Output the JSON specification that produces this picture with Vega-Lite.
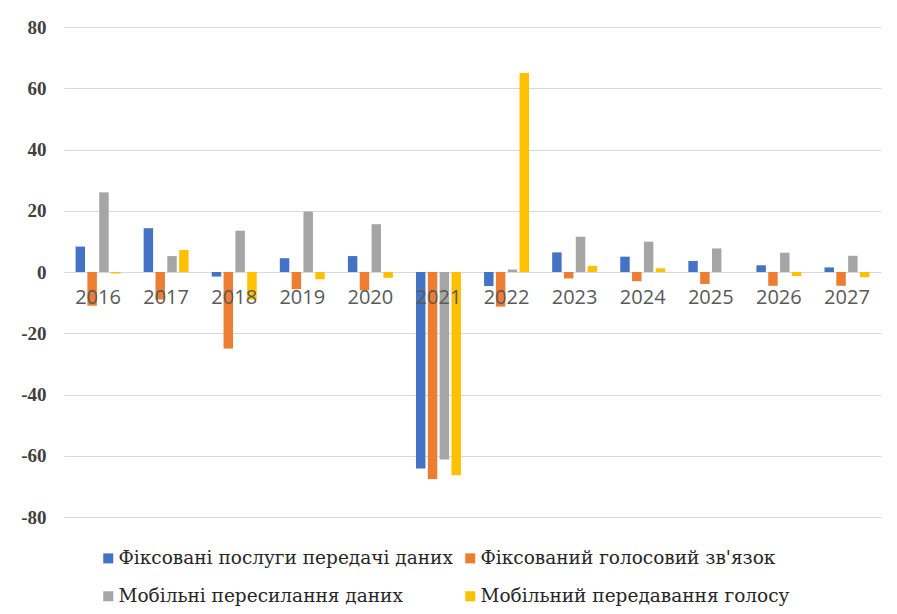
{
  "$schema": "https://vega.github.io/schema/vega-lite/v6.json",
  "width": 817,
  "height": 490,
  "autosize": {"type": "none"},
  "padding": {"left": 64, "top": 27, "right": 16, "bottom": 97},
  "background": "white",
  "config": {"view": {"stroke": null}},
  "data": {"values": [
    {"year": "2016", "s": "Фіксовані послуги передачі даних", "v": 8.3},
    {"year": "2016", "s": "Фіксований голосовий зв'язок", "v": -11},
    {"year": "2016", "s": "Мобільні пересилання даних", "v": 26},
    {"year": "2016", "s": "Мобільний передавання голосу", "v": -0.5},
    {"year": "2017", "s": "Фіксовані послуги передачі даних", "v": 14.3},
    {"year": "2017", "s": "Фіксований голосовий зв'язок", "v": -9},
    {"year": "2017", "s": "Мобільні пересилання даних", "v": 5.2},
    {"year": "2017", "s": "Мобільний передавання голосу", "v": 7.2},
    {"year": "2018", "s": "Фіксовані послуги передачі даних", "v": -1.5},
    {"year": "2018", "s": "Фіксований голосовий зв'язок", "v": -25},
    {"year": "2018", "s": "Мобільні пересилання даних", "v": 13.5},
    {"year": "2018", "s": "Мобільний передавання голосу", "v": -9},
    {"year": "2019", "s": "Фіксовані послуги передачі даних", "v": 4.5},
    {"year": "2019", "s": "Фіксований голосовий зв'язок", "v": -5.6},
    {"year": "2019", "s": "Мобільні пересилання даних", "v": 19.7},
    {"year": "2019", "s": "Мобільний передавання голосу", "v": -2.4},
    {"year": "2020", "s": "Фіксовані послуги передачі даних", "v": 5.2},
    {"year": "2020", "s": "Фіксований голосовий зв'язок", "v": -6},
    {"year": "2020", "s": "Мобільні пересилання даних", "v": 15.6},
    {"year": "2020", "s": "Мобільний передавання голосу", "v": -1.9},
    {"year": "2021", "s": "Фіксовані послуги передачі даних", "v": -64.2},
    {"year": "2021", "s": "Фіксований голосовий зв'язок", "v": -67.6},
    {"year": "2021", "s": "Мобільні пересилання даних", "v": -61.2},
    {"year": "2021", "s": "Мобільний передавання голосу", "v": -66.4},
    {"year": "2022", "s": "Фіксовані послуги передачі даних", "v": -4.6},
    {"year": "2022", "s": "Фіксований голосовий зв'язок", "v": -11.3},
    {"year": "2022", "s": "Мобільні пересилання даних", "v": 0.8},
    {"year": "2022", "s": "Мобільний передавання голосу", "v": 65},
    {"year": "2023", "s": "Фіксовані послуги передачі даних", "v": 6.4},
    {"year": "2023", "s": "Фіксований голосовий зв'язок", "v": -2.1},
    {"year": "2023", "s": "Мобільні пересилання даних", "v": 11.5},
    {"year": "2023", "s": "Мобільний передавання голосу", "v": 2},
    {"year": "2024", "s": "Фіксовані послуги передачі даних", "v": 5},
    {"year": "2024", "s": "Фіксований голосовий зв'язок", "v": -3},
    {"year": "2024", "s": "Мобільні пересилання даних", "v": 9.9},
    {"year": "2024", "s": "Мобільний передавання голосу", "v": 1.2},
    {"year": "2025", "s": "Фіксовані послуги передачі даних", "v": 3.6},
    {"year": "2025", "s": "Фіксований голосовий зв'язок", "v": -3.9},
    {"year": "2025", "s": "Мобільні пересилання даних", "v": 7.7},
    {"year": "2025", "s": "Мобільний передавання голосу", "v": 0},
    {"year": "2026", "s": "Фіксовані послуги передачі даних", "v": 2.2},
    {"year": "2026", "s": "Фіксований голосовий зв'язок", "v": -4.5},
    {"year": "2026", "s": "Мобільні пересилання даних", "v": 6.3},
    {"year": "2026", "s": "Мобільний передавання голосу", "v": -1.3},
    {"year": "2027", "s": "Фіксовані послуги передачі даних", "v": 1.5},
    {"year": "2027", "s": "Фіксований голосовий зв'язок", "v": -4.5},
    {"year": "2027", "s": "Мобільні пересилання даних", "v": 5.3},
    {"year": "2027", "s": "Мобільний передавання голосу", "v": -1.7}
  ]},
  "mark": {"type": "bar"},
  "encoding": {
    "x": {
      "field": "year", "type": "nominal",
      "scale": {"paddingInner": 0.34, "paddingOuter": 0.17},
      "axis": {
        "title": null, "orient": "bottom", "offset": -245, "domain": false, "ticks": false,
        "labelAngle": 0, "labelFont": "Open Sans", "labelFontSize": 20, "labelColor": "#595959",
        "labelPadding": 15, "zindex": 1
      }
    },
    "xOffset": {
      "field": "s", "type": "nominal",
      "scale": {"paddingInner": 0.2, "domain": ["Фіксовані послуги передачі даних", "Фіксований голосовий зв'язок", "Мобільні пересилання даних", "Мобільний передавання голосу"]}
    },
    "y": {
      "field": "v", "type": "quantitative",
      "scale": {"domain": [-80, 80], "nice": false},
      "axis": {
        "title": null, "values": [-80, -60, -40, -20, 0, 20, 40, 60, 80],
        "labelExpr": "'' + datum.value",
        "domain": false, "ticks": false, "gridColor": "#d9d9d9", "gridWidth": 1,
        "labelFont": "Liberation Serif", "labelFontSize": 19, "labelFontWeight": "bold",
        "labelColor": "#404040", "labelPadding": 18
      }
    },
    "color": {
      "field": "s", "type": "nominal",
      "scale": {
        "domain": ["Фіксовані послуги передачі даних", "Фіксований голосовий зв'язок", "Мобільні пересилання даних", "Мобільний передавання голосу"],
        "range": ["#4472C4", "#ED7D31", "#A5A5A5", "#FFC000"]
      },
      "legend": {
        "title": null, "orient": "none", "legendX": 35, "legendY": 522, "direction": "horizontal",
        "columns": 2, "columnPadding": 8, "rowPadding": 19,
        "symbolType": "square", "symbolSize": 100, "symbolStrokeWidth": 0, "symbolOffset": 0,
        "labelFont": "DejaVu Serif", "labelFontSize": 18.5, "labelColor": "#262626",
        "labelOffset": 1, "labelLimit": 600
      }
    }
  }
}
